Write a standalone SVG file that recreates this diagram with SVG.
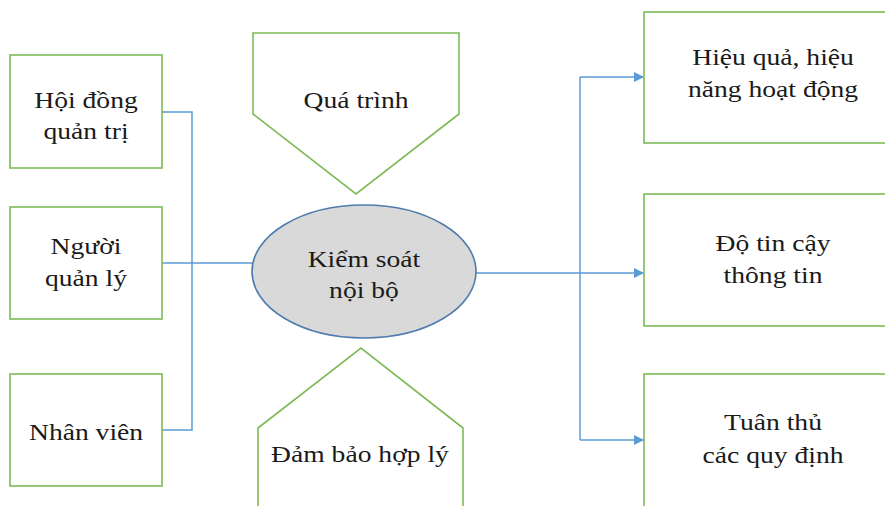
<svg xmlns="http://www.w3.org/2000/svg" width="885" height="506" viewBox="0 0 885 506">
<style>
.box{fill:#fff;stroke:#7cbb57;stroke-width:1.6}
.ell{fill:#d9d9d9;stroke:#4f7cae;stroke-width:1.6}
.ln{fill:none;stroke:#5b9bd5;stroke-width:1.5}
text{font-family:"Liberation Serif","Times New Roman",serif;font-size:23px;fill:#1a1a1a;text-anchor:middle}
</style>
<defs>
<marker id="ah" markerWidth="10" markerHeight="10" refX="9" refY="5" orient="auto" markerUnits="userSpaceOnUse">
<path d="M0,0 L10,5 L0,10 Z" fill="#5b9bd5"/>
</marker>
</defs>
<rect width="885" height="506" fill="#fff"/>
<g id="connectors">
<path class="ln" d="M162,112 H192 V430 H162"/>
<path class="ln" d="M162,263 H252"/>
<path class="ln" d="M476,273 H580"/>
<path class="ln" d="M580,77 V440"/>
<path class="ln" d="M580,77 H643" marker-end="url(#ah)"/>
<path class="ln" d="M580,273 H643" marker-end="url(#ah)"/>
<path class="ln" d="M580,440 H643" marker-end="url(#ah)"/>
</g>
<g id="n-hoidong"><rect class="box" x="10" y="55" width="152" height="113"/></g>
<g id="n-nguoiquanly"><rect class="box" x="10" y="207" width="152" height="112"/></g>
<g id="n-nhanvien"><rect class="box" x="10" y="374" width="152" height="112"/></g>
<g id="n-quatrinh"><path class="box" d="M253,33 H459 V114 L356,194 L253,114 Z"/></g>
<g id="n-kiemsoat"><ellipse class="ell" cx="364" cy="271.5" rx="112" ry="66.5"/></g>
<g id="n-dambao"><path class="box" d="M258,507 V428 L361,348 L463,428 V507"/></g>
<g id="n-hieuqua"><rect class="box" x="644" y="12" width="250" height="131"/></g>
<g id="n-dotincay"><rect class="box" x="644" y="194" width="250" height="132"/></g>
<g id="n-tuanthu"><rect class="box" x="644" y="374" width="250" height="140"/></g>
<g transform="scale(1.2 1)">
<text x="71.7" y="108">Hội đồng</text>
<text x="71.7" y="139">quản trị</text>
<text x="71.7" y="254">Người</text>
<text x="71.7" y="286">quản lý</text>
<text x="71.7" y="440">Nhân viên</text>
<text x="296.7" y="108">Quá trình</text>
<text x="303.3" y="267">Kiểm soát</text>
<text x="303.3" y="298">nội bộ</text>
<text x="300" y="462">Đảm bảo hợp lý</text>
<text x="644.2" y="65">Hiệu quả, hiệu</text>
<text x="644.2" y="97">năng hoạt động</text>
<text x="644.2" y="251">Độ tin cậy</text>
<text x="644.2" y="283">thông tin</text>
<text x="644.2" y="430">Tuân thủ</text>
<text x="644.2" y="463">các quy định</text>
</g>
</svg>
